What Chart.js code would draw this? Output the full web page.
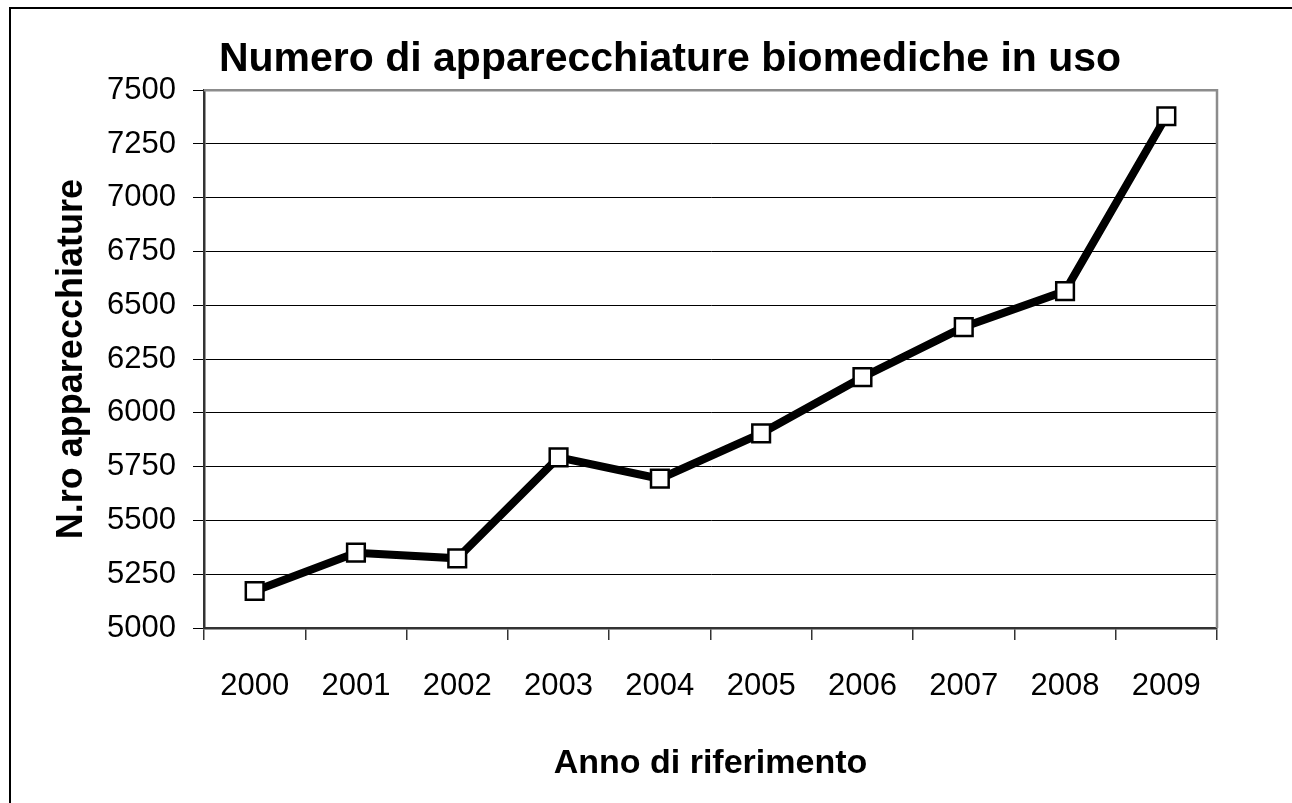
<!DOCTYPE html>
<html>
<head>
<meta charset="utf-8">
<script src="https://cdn.jsdelivr.net/npm/chart.js@4/dist/chart.umd.min.js"></script>
<style>
  html, body { margin: 0; padding: 0; background: #fff; overflow: hidden; width: 1292px; height: 803px; }
  #frame { position: absolute; left: 9px; top: 7px; width: 1400px; height: 900px; border-top: 2px solid #000; border-left: 2px solid #000; }
  #wrap { position: absolute; left: 0; top: 0; width: 1340px; height: 803px; }
</style>
</head>
<body>
<div id="frame"></div>
<div id="wrap"><canvas id="c" width="1340" height="803"></canvas></div>
<script>
const years = ['2000','2001','2002','2003','2004','2005','2006','2007','2008','2009'];
const apparecchiature = [5172, 5350, 5324, 5793, 5694, 5905, 6166, 6399, 6566, 7379];
const yMin = 5000, yMax = 7500, yStep = 250;
const chartTitle = 'Numero di apparecchiature biomediche in uso';
const yTitle = 'N.ro apparecchiature';
const xTitle = 'Anno di riferimento';

Chart.defaults.font.family = "'Liberation Sans', Arial, sans-serif";
Chart.defaults.color = '#000';

const plotBorder = {
  id: 'plotBorder',
  beforeDatasetsDraw(chart) {
    const a = chart.chartArea, ctx = chart.ctx;
    ctx.save();
    ctx.strokeStyle = '#8c8c8c';
    ctx.lineWidth = 2.5;
    ctx.beginPath();
    ctx.moveTo(a.left, a.top);
    ctx.lineTo(a.right, a.top);
    ctx.lineTo(a.right, a.bottom);
    ctx.stroke();
    ctx.restore();
  }
};

new Chart(document.getElementById('c'), {
  type: 'line',
  data: {
    labels: years,
    datasets: [{
      data: apparecchiature,
      borderColor: '#000',
      borderWidth: 8,
      tension: 0,
      pointStyle: 'rect',
      pointRadius: 12.5,
      pointBackgroundColor: '#fff',
      pointBorderColor: '#000',
      pointBorderWidth: 2.5,
      yAxisID: 'y'
    }]
  },
  options: {
    responsive: false,
    animation: false,
    layout: { padding: 0 },
    plugins: {
      legend: { display: false },
      tooltip: { enabled: false },
      title: {
        display: true,
        text: chartTitle,
        font: { size: 41, weight: 'bold' },
        color: '#000',
        padding: { top: 35, bottom: 6 }
      }
    },
    scales: {
      x: {
        type: 'category',
        offset: true,
        grid: { offset: true, drawOnChartArea: false, drawTicks: true, tickLength: 12, color: '#333', lineWidth: 1.5 },
        border: { display: true, color: '#333', width: 2.5 },
        ticks: { font: { size: 31 }, color: '#000', padding: 28, maxRotation: 0, autoSkip: false },
        title: { display: true, text: xTitle, font: { size: 34, weight: 'bold' }, color: '#000', padding: { top: 0, bottom: 18.6 } },
        afterFit(s) { s.height = 175; }
      },
      y: {
        type: 'linear',
        position: 'left',
        min: yMin,
        max: yMax,
        ticks: { stepSize: yStep, font: { size: 31 }, color: '#000', padding: 17, callback: v => String(v) },
        grid: { color: '#000', lineWidth: 1, tickLength: 11 },
        border: { display: true, color: '#333', width: 2.5 },
        title: { display: true, text: yTitle, font: { size: 36, weight: 'bold' }, color: '#000', padding: { top: 50.4, bottom: 0 } },
        afterFit(s) { s.width = 204; }
      },
      yR: {
        type: 'linear',
        position: 'right',
        display: true,
        grid: { display: false, drawTicks: false },
        border: { display: false },
        ticks: { display: false },
        afterFit(s) { s.width = 123; }
      }
    }
  },
  plugins: [plotBorder]
});
</script>
</body>
</html>
